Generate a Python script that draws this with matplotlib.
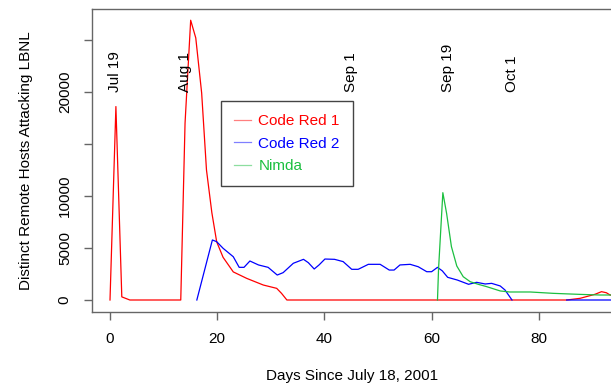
import numpy as np
import matplotlib
matplotlib.use("Agg")
import matplotlib.pyplot as plt

plt.rcParams['font.family'] = ['Liberation Sans', 'DejaVu Sans']
plt.rcParams['font.size'] = 11

nan = np.nan

# Code Red 1
cr1_days = [0, 1.1, 2.2, 3.7, 13.2, 14.0, 15.05, 16.0, 17.1, 18.0, 19.0, 19.9, 21.1,
            23.0, 25.5, 28.6, 31.1, 32.0, 33.0, 85.2, 87.7, 90.5, 91.7, 92.6, 93.3, 95]
cr1_hosts = [0, 18600, 300, 0, 0, 17000, 26900, 25200, 19900, 12500, 8400, 5600, 4100,
             2700, 2080, 1440, 1120, 640, 0, 0, 160, 550, 800, 700, 480, 400]

# Code Red 2 (gap = no data)
cr2_days = [16.2, 19.1, 19.9, 21.1, 23.0, 24.1, 25.0, 26.1, 27.7, 29.5, 31.2, 32.3,
            34.2, 36.1, 37.0, 38.1, 39.0, 40.1, 41.9, 43.5, 45.1, 46.3, 48.2, 50.4,
            51.3, 52.1, 53.0, 54.1, 56.0, 57.5, 59.1, 60.0, 61.1, 62.0, 63.0, 64.8,
            66.9, 68.4, 70.0, 71.2, 72.8, 73.7, 75.0, nan, 85.2, 95]
cr2_hosts = [0, 5770, 5610, 4970, 4160, 3140, 3140, 3750, 3370, 3140, 2400, 2630,
             3530, 3910, 3590, 2980, 3370, 3940, 3910, 3690, 2950, 2950, 3430, 3430,
             3140, 2880, 2880, 3370, 3430, 3200, 2720, 2720, 3140, 2800, 2180, 1920,
             1510, 1700, 1540, 1600, 1350, 960, 0, nan, 0, 0]

# Nimda
nimda_days = [61.1, 61.3, 62.1, 62.8, 63.7, 64.7, 65.9, 67.2, 68.7, 70.3, 72.8, 74.6,
              78.4, 82.7, 87.7, 91.4, 95]
nimda_hosts = [0, 3000, 10320, 8330, 5130, 3270, 2240, 1760, 1510, 1280, 870, 770,
               770, 640, 540, 480, 480]

event_days = [1, 14, 45, 63, 75]
event_labels = ['Jul 19', 'Aug 1', 'Sep 1', 'Sep 19', 'Oct 1']

W, H = 611, 385
fig = plt.figure(figsize=(W / 100, H / 100), dpi=100)
# plot box runs off the right edge of the picture
x0, x1, ytop, ybot = 92, 612, 9, 312
ax = fig.add_axes([x0 / W, 1 - ybot / H, (x1 - x0) / W, (ybot - ytop) / H])

ax.plot(cr1_days, cr1_hosts, color='#ff0000', lw=0.9, label='Code Red 1')
ax.plot(cr2_days, cr2_hosts, color='#0000ff', lw=0.9, label='Code Red 2')
ax.plot(nimda_days, nimda_hosts, color='#1cbf40', lw=0.9, label='Nimda')

for d, lab in zip(event_days, event_labels):
    ax.text(d, 20000, lab, rotation=90, ha='center', va='bottom')

ax.set_xlim(-3.36, 93.66)
ax.set_ylim(-1154, 27980)
ax.set_xticks([0, 20, 40, 60, 80])
ax.set_yticks([0, 5000, 10000, 15000, 20000, 25000])
ax.set_yticklabels(['0', '5000', '10000', '', '20000', ''])

edge = '#666666'
for s in ax.spines.values():
    s.set_color(edge)
    s.set_linewidth(1.0)
ax.tick_params(direction='out', length=5.5, width=1.0, color=edge)
ax.tick_params(axis='x', pad=9)
ax.tick_params(axis='y', pad=9, labelrotation=90)
for t in ax.get_yticklabels():
    t.set_va('center')

fig.text(26 / W, 1 - 160.5 / H, 'Distinct Remote Hosts Attacking LBNL',
         rotation=90, ha='center', va='center')
fig.text(352 / W, 1 - 376 / H, 'Days Since July 18, 2001', ha='center', va='center')

leg = ax.legend(loc='upper left', bbox_to_anchor=(221 / W, 1 - 101 / H),
                bbox_transform=fig.transFigure, fancybox=False, framealpha=1,
                edgecolor='#444444', labelcolor='linecolor', handlelength=1.1,
                handletextpad=0.5, borderpad=0.85, labelspacing=0.56,
                borderaxespad=0)
leg.get_frame().set_linewidth(1.0)
for h in leg.get_lines():
    h.set_alpha(0.5)

fig.savefig('out.png', dpi=100)
